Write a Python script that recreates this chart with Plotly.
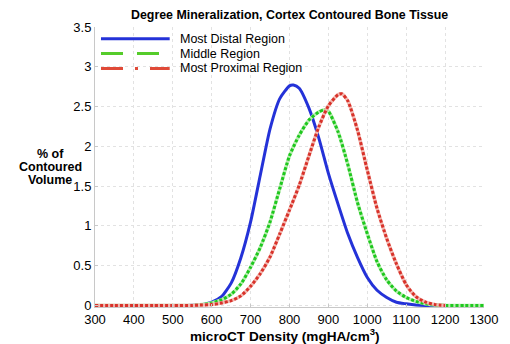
import plotly.graph_objects as go

# ---- data ----
x_blue = [300, 350, 400, 450, 500, 525, 550, 575, 600, 625, 650, 675, 700, 725, 750, 775, 800, 810,
          825, 850, 875, 900, 925, 950, 975, 1000, 1025, 1050, 1075, 1100, 1125, 1150, 1200, 1250, 1300]
y_blue = [0, 0, 0, 0, 0, 0, 0.003, 0.01, 0.04, 0.11, 0.28, 0.60, 1.05, 1.64, 2.22, 2.60, 2.76, 2.77,
          2.73, 2.48, 2.11, 1.66, 1.27, 0.90, 0.60, 0.35, 0.19, 0.10, 0.04, 0.02, 0.005, 0, 0, 0, 0]

x_green = [300, 350, 400, 450, 500, 550, 575, 600, 625, 650, 675, 700, 725, 750, 775, 800, 825, 850,
           875, 890, 900, 925, 950, 975, 1000, 1025, 1050, 1075, 1100, 1125, 1150, 1175, 1200, 1250, 1300]
y_green = [0, 0, 0, 0, 0, 0, 0.01, 0.03, 0.07, 0.14, 0.27, 0.48, 0.73, 1.05, 1.47, 1.88, 2.14, 2.33,
           2.43, 2.46, 2.44, 2.18, 1.77, 1.29, 0.90, 0.55, 0.32, 0.18, 0.10, 0.05, 0.02, 0.005, 0, 0, 0]

x_red = [300, 350, 400, 450, 500, 550, 575, 600, 625, 650, 675, 700, 725, 750, 775, 800, 825, 850,
         875, 900, 925, 935, 950, 975, 1000, 1025, 1050, 1075, 1100, 1125, 1150, 1175, 1200]
y_red = [0, 0, 0, 0, 0, 0, 0.005, 0.01, 0.03, 0.06, 0.12, 0.24, 0.40, 0.61, 0.90, 1.20, 1.51, 1.88,
         2.24, 2.51, 2.65, 2.66, 2.57, 2.20, 1.70, 1.22, 0.84, 0.52, 0.26, 0.11, 0.04, 0.01, 0]

names = ["Most Distal Region", "Middle Region", "Most Proximal Region"]
x_ticks = [300, 400, 500, 600, 700, 800, 900, 1000, 1100, 1200, 1300]
y_ticks = [0, 0.5, 1, 1.5, 2, 2.5, 3, 3.5]
y_tick_text = ["0", "0.5", "1", "1.5", "2", "2.5", "3", "3.5"]
y_label_lines = ["% of", "Contoured", "Volume"]

BLUE = "#2432d8"
GREEN = "#1ec81e"
GREEN_HALO = "#b8ecb0"
RED = "#d8322a"
RED_HALO = "#f2b9b2"
LEG_GREEN = "#55cc2a"
LEG_RED = "#e04a38"
FONT = "Liberation Sans, Arial, Helvetica, sans-serif"

fig = go.Figure()

spl = dict(shape="spline", smoothing=0.6)
fig.add_trace(go.Scatter(x=x_blue, y=y_blue, mode="lines", name=names[0], showlegend=False,
                         line=dict(color=BLUE, width=3, **spl)))
fig.add_trace(go.Scatter(x=x_green, y=y_green, mode="lines", showlegend=False, hoverinfo="skip",
                         line=dict(color=GREEN_HALO, width=3.5, **spl)))
fig.add_trace(go.Scatter(x=x_green, y=y_green, mode="lines", name=names[1], showlegend=False,
                         line=dict(color=GREEN, width=3, dash="3px,2px", **spl)))
fig.add_trace(go.Scatter(x=x_red, y=y_red, mode="lines", showlegend=False, hoverinfo="skip",
                         line=dict(color=RED_HALO, width=3.5, **spl)))
fig.add_trace(go.Scatter(x=x_red, y=y_red, mode="lines", name=names[2], showlegend=False,
                         line=dict(color=RED, width=3, dash="3px,2px", **spl)))

# manual legend (paper coordinates)
leg_colors = [BLUE, LEG_GREEN, LEG_RED]
leg_dash = ["solid", "22px,14px", "22px,12px,3px,12px"]
leg_y = [0.958, 0.905, 0.852]
shapes = []
annotations = []
for nm, c, d, yy in zip(names, leg_colors, leg_dash, leg_y):
    shapes.append(dict(type="line", xref="paper", yref="paper", x0=0.0154, x1=0.192, y0=yy, y1=yy,
                       line=dict(color=c, width=3, dash=d)))
    annotations.append(dict(text=nm, xref="paper", yref="paper", x=0.213, y=yy, xanchor="left",
                            yanchor="middle", showarrow=False, font=dict(size=12.5, family=FONT)))

annotations.append(dict(text="<b>Degree Mineralization, Cortex Contoured Bone Tissue</b>",
                        xref="paper", yref="paper", x=0.5, y=1.0, xanchor="center", yanchor="middle",
                        yshift=12, showarrow=False, font=dict(size=12.4, family=FONT)))
for line_txt, yy in zip(y_label_lines, [0.546, 0.500, 0.454]):
    annotations.append(dict(text="<b>%s</b>" % line_txt, xref="paper", yref="paper", x=-0.115, y=yy,
                            xanchor="center", yanchor="middle", showarrow=False,
                            font=dict(size=12.5, family=FONT)))
annotations.append(dict(text="<b>microCT Density (mgHA/cm<sup>3</sup>)</b>", xref="paper", yref="paper",
                        x=0.5, y=0, xanchor="center", yanchor="middle", yshift=-27.5, xshift=-5,
                        showarrow=False, font=dict(size=13.6, family=FONT)))

fig.update_layout(
    width=502, height=336,
    margin=dict(l=87, r=25, t=15, b=37),
    paper_bgcolor="white", plot_bgcolor="white",
    font=dict(family=FONT, size=13, color="black"),
    showlegend=False,
    shapes=shapes,
    annotations=annotations,
)

axis_style = dict(showgrid=True, gridcolor="#e2e2e2", griddash="dot", gridwidth=1,
                  showline=True, linecolor="#c8c8c8", linewidth=1, mirror=False,
                  ticks="inside", ticklen=3, tickcolor="#c8c8c8", zeroline=False,
                  tickfont=dict(size=13, family=FONT))
fig.update_xaxes(range=[300, 1300], tickvals=x_ticks, ticktext=[str(v) for v in x_ticks], **axis_style)
fig.update_yaxes(range=[-0.02, 3.5], tickvals=y_ticks, ticktext=y_tick_text, **axis_style)

fig.write_html("out.html")
